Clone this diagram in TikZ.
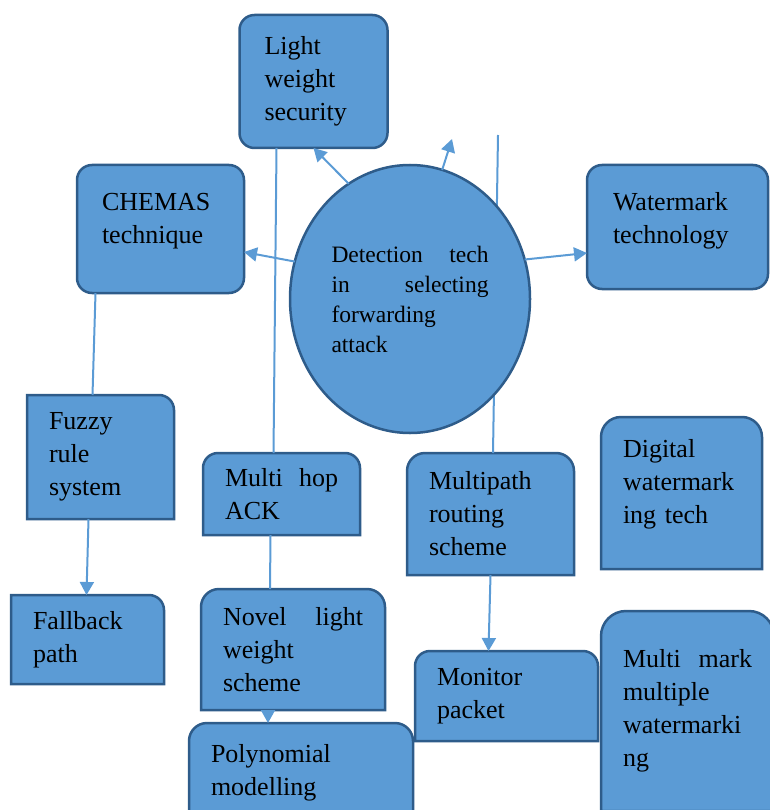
\documentclass[tikz,border=0pt]{standalone}
\usepackage{fontspec}
\setmainfont{Liberation Serif}
\usetikzlibrary{arrows.meta,positioning,shapes.geometric,backgrounds}
\definecolor{boxblue}{HTML}{5B9BD5}
\definecolor{boxedge}{HTML}{2E5C8A}
\definecolor{linkblue}{HTML}{5B9BD5}

\newcommand\toptwo[2]{\path[shapeln] (#1.south west) -- ([yshift=-#2]#1.north west) arc[start angle=180,end angle=90,radius=#2] -- ([xshift=-#2]#1.north east) arc[start angle=90,end angle=0,radius=#2] -- (#1.south east) -- cycle;}
\newcommand\topright[2]{\path[shapeln] (#1.south west) -- (#1.north west) -- ([xshift=-#2]#1.north east) arc[start angle=90,end angle=0,radius=#2] -- (#1.south east) -- cycle;}

\begin{document}
\begin{tikzpicture}[
    x=1pt, y=-1pt,
    blk/.style={align=left, inner xsep=22pt, inner ysep=2pt, outer sep=0pt, font=\fontsize{26}{33}\selectfont},
    rnd/.style={draw=boxedge, fill=boxblue, line width=2.5pt, rounded corners=15pt},
    shapeln/.style={draw=boxedge, fill=boxblue, line width=2.5pt},
    centre/.style={ellipse, draw=boxedge, fill=boxblue, line width=2.5pt, inner sep=0pt, outer sep=0pt, align=left, font=\fontsize{23.5}{30}\selectfont},
    link/.style={draw=linkblue, line width=2pt},
    arrow/.style={link, -{Triangle[length=13pt,width=14pt]}}
]
\useasboundingbox (0,0) rectangle (769,810);

\node[blk, rnd, minimum width=145pt, minimum height=133pt, text width=98pt, inner xsep=25pt] (lws) at (313.5,81.5) {Light\\weight\\security};
\node[blk, rnd, minimum width=167pt, minimum height=128pt, text width=117pt, inner xsep=25pt, text depth=55pt] (chm) at (160.5,229) {CHEMAS\\technique};
\node[blk, rnd, minimum width=181pt, minimum height=124pt, text width=129pt, inner xsep=26pt, text depth=52pt] (wmt) at (677.5,227) {Watermark\\technology};
\node[blk, minimum width=147pt, minimum height=124pt, text width=103pt] (frs) at (100.5,457) {Fuzzy\\rule\\system};
\node[blk, minimum width=153pt, minimum height=89pt, text width=109pt] (fbp) at (87.5,639.5) {Fallback\\path};
\node[blk, minimum width=157pt, minimum height=82pt, text width=113pt] (mha) at (281.5,494) {Multi\hfill hop\\ACK};
\node[blk, minimum width=184pt, minimum height=121pt, text width=140pt] (nlw) at (293,649.5) {Novel\hfill light\\weight\\scheme};
\node[blk, minimum width=224pt, minimum height=100pt, text width=180pt] (poly) at (301,773) {Polynomial\\modelling};
\node[blk, minimum width=167pt, minimum height=122pt, text width=123pt] (mrs) at (490.5,514) {Multipath\\routing\\scheme};
\node[blk, minimum width=161pt, minimum height=152pt, text width=117pt, text depth=89pt] (dwt) at (681.5,493) {Digital\\watermark\\ing tech};
\node[blk, minimum width=183pt, minimum height=90pt, text width=139pt] (mon) at (506.5,696) {Monitor\\packet};
\node[blk, minimum width=173pt, minimum height=200pt, text width=129pt] (mmw) at (687.5,711) {Multi\hfill mark\\multiple\\watermarki\\ng};

\begin{pgfonlayer}{background}
\topright{frs}{15pt}
\topright{fbp}{15pt}
\toptwo{mha}{15pt}
\toptwo{nlw}{18pt}
\toptwo{poly}{18pt}
\toptwo{mrs}{18pt}
\toptwo{dwt}{20pt}
\toptwo{mon}{15pt}
\toptwo{mmw}{25pt}
\end{pgfonlayer}

\coordinate (vtop) at (498,135);
\coordinate (tipup) at (452,139);
\draw[link] (vtop) -- ([xshift=2.5pt]mrs.north);

\node[centre, minimum width=240pt, minimum height=268pt, text width=157pt] (det) at (410,299) {Detection\hfill tech\\in\hfill selecting\\forwarding\\attack};

\draw[arrow] (det.118) -- (lws.south);
\draw[arrow] (det.76) -- (tipup);
\draw[arrow] (det.162) -- ([yshift=-23pt]chm.east);
\draw[arrow] (det.19) -- ([yshift=-26pt]wmt.west);
\draw[link] ([xshift=-37pt]lws.south) -- ([xshift=-8pt]mha.north);
\draw[link] ([xshift=-65pt]chm.south) -- ([xshift=-8pt]frs.north);
\draw[arrow] ([xshift=-12pt]frs.south) -- ([xshift=-1pt]fbp.north);
\draw[link] ([xshift=-11pt]mha.south) -- ([xshift=-23pt]nlw.north);
\draw[arrow] ([xshift=-25pt]nlw.south) -- ([xshift=-33pt]poly.north);
\draw[arrow] (mrs.south) -- ([xshift=-18pt]mon.north);
\end{tikzpicture}
\end{document}
